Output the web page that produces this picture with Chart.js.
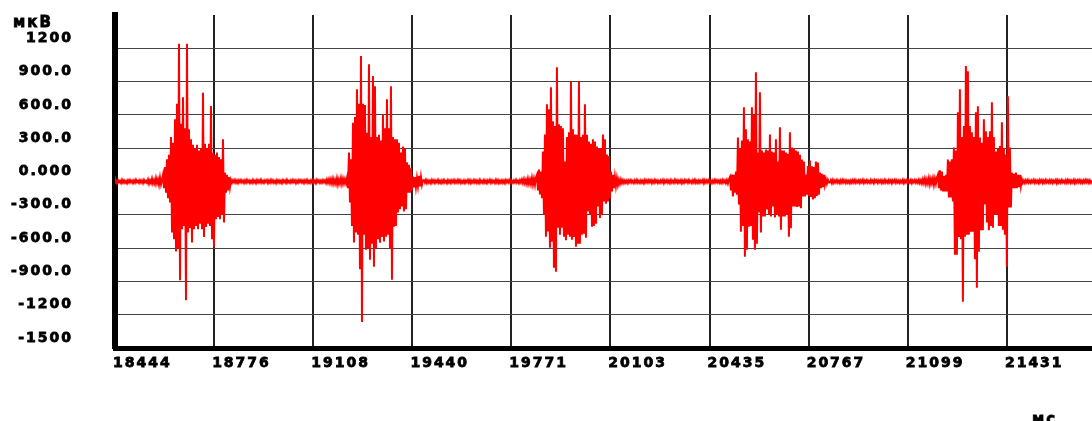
<!DOCTYPE html>
<html>
<head>
<meta charset="utf-8">
<script src="https://cdn.jsdelivr.net/npm/chart.js@4.4.1/dist/chart.umd.min.js"></script>
<style>
html, body { margin: 0; padding: 0; background: #fff; }
canvas { display: block; }
</style>
</head>
<body>
<canvas id="myChart" width="1092" height="421"></canvas>
<script>
// time axis (ms) and amplitude axis (µV)
const startMs = 18444;
const sampleMs = 3.3486;
const xTicks = [18444, 18776, 19108, 19440, 19771, 20103, 20435, 20767, 21099, 21431];
const yTicks = [-1500, -1200, -900, -600, -300, 0, 300, 600, 900, 1200, 1500];
const yLabels = ['-1500', '-1200', '-900.0', '-600.0', '-300.0', '0.000', '300.0', '600.0', '900.0', '1200', ''];
const yUnit = 'мкВ';
const xUnit = 'мс';

// signal, one sample per column, split into rest / burst parts
const rest0 = [-12,8,-15,12,-8,6,-14,15,-10,9,-12,4,-16,11,-9,13,-7,8,-14,10,-11,16,-6,7,-13,12,-10,9,-15,14,-8,6,-12,18,-20,10,-14,25,-18,12,-22,30,-15,20,-28,35,-25,15];
const burst1 = [60,-60,130,-100,200,-150,240,-190,400,-460,
  350,-520,560,-630,700,-600,1240,-890,520,-430,
  760,-400,480,-1070,1240,-460,470,-420,380,-550,
  330,-430,300,-400,330,-430,280,-380,300,-430,
  800,-500,340,-410,300,-380,340,-400,680,-520,
  260,-590,240,-340,260,-320,220,-340,200,-300,
  380,-370,80,-100,60,-80,40,-50,15];
const rest1 = [-10,12,-8,14,-12,9,-15,11,-6,13,
  -9,8,-14,10,-11,15,-7,9,-13,6,
  -12,14,-10,8,-15,12,-9,11,-8,16,
  -11,7,-13,10,-6,12,-14,9,-10,15,
  -8,11,-12,6,-15,13,-9,10,-11,8,
  -14,12,-7,9,-13,15,-10,6,-12,11,
  -9,14,-8,10,-15,7,-11,13,-6,12,
  -10,9,-14,11,-8,15,-12,6,-13,10,
  -9,12,-11,8,-15,14,-7,10,-12,9,
  -10,13,-8,11,-14,18,-12,20,-15,22,
  -18,25,-20,15,-22,28,-25,18,-20,30,
  -22,25,-18,20,-15];
const burst2 = [30,-60,260,-190,200,-400,530,-550,580,-460,
  830,-480,700,-790,1130,-1265,700,-480,690,-614,
  440,-600,1057,-705,400,-560,950,-768,858,-600,
  400,-520,420,-551,370,-500,605,-540,480,-497,
  741,-480,480,-600,858,-886,400,-407,380,-400,
  380,-280,350,-250,262,-226,316,-271,300,-250,
  172,-100,150,-100,120,-80,45,-54,40,-50,
  30,-40,50,-45,40,-30,10];
const rest2 = [12,-10,15,-14,10,-12,8,-15,14,-9,
  11,-13,9,-8,15,-12,7,-14,10,-11,
  13,-9,6,-15,12,-10,9,-13,11,-7,
  14,-12,8,-10,15,-9,11,-14,6,-12,
  10,-13,9,-8,14,-11,12,-15,7,-10,
  13,-9,11,-12,8,-14,15,-10,6,-13,
  12,-11,9,-15,10,-8,14,-12,11,-9,
  7,-13,15,-10,12,-14,8,-11,10,-12,
  9,-15,13,-8,11,-10,14,-13,6,-12,
  10,-9,15,-11,8,-14,12,-10,18,-15,
  20,-18,15,-22,25,-20,18,-25,30,-28,
  25,-30,35];
const burst3 = [60,-80,108,-117,90,-150,270,-298,424,-497,
  696,-450,651,-596,850,-542,542,-777,500,-813,
  1030,-416,515,-480,500,-416,480,-497,180,-530,
  400,-480,443,-497,900,-524,470,-500,424,-587,
  420,-560,900,-560,400,-480,420,-470,696,-506,
  420,-271,361,-300,340,-407,380,-400,360,-380,
  316,-226,300,-328,300,-300,424,-181,380,-200,
  244,-181,230,-150,90,-90,60,-60,40,-40,
  30,-30,15];
const rest3 = [-20,18,-15,12,-14,10,-12,9,-15,11,
  -8,13,-10,7,-14,12,-9,15,-11,6,
  -13,10,-12,8,-15,14,-9,11,-10,13,
  -7,12,-14,9,-11,15,-8,10,-13,6,
  -12,11,-9,14,-15,10,-8,12,-11,9,
  -14,13,-10,7,-12,15,-9,11,-13,8,
  -10,12,-15,9,-11,14,-7,10,-12,13,
  -9,6,-14,11,-10,15,-12,8,-13,10,
  -11,9,-8,14,-15,12,-10,11,-9,13,
  -12,7,-14,10,-11,15,-8,12,-10,9,
  -13,11,-12,14,-9,10,-15,12,-18,20];
const burst4 = [40,-80,63,-135,60,-100,90,-120,397,-208,
  300,-452,370,-400,668,-678,470,-614,380,-407,
  360,-400,668,-524,600,-614,985,-560,262,-280,
  804,-460,280,-316,260,-316,289,-253,280,-300,
  424,-316,270,-226,260,-325,380,-300,181,-316,
  488,-434,280,-316,280,-316,260,-300,250,-497,
  443,-420,307,-226,300,-226,280,-230,270,-226,
  240,-240,199,-135,180,-135,63,-120,140,-130,
  190,-140,136,-163,130,-150,181,-130,170,-120,
  80,-60,70,-50,60,-30,20,-20,15,-10];
const rest4 = [-10,12,-15,14,-12,10,-9,13,-11,8,
  -14,12,-10,15,-8,11,-13,9,-12,7,
  -15,10,-11,13,-9,14,-12,8,-10,12,
  -13,11,-8,15,-14,9,-10,12,-11,6,
  -12,14,-9,10,-15,13,-7,11,-13,10,
  -8,12,-14,9,-11,15,-10,7,-12,13,
  -9,11,-15,10,-8,14,-12,12,-10,9,
  -13,8,-11,15,-14,10,-9,12,-12,11,
  -10,13,-15,9,-8,14,-11,10,-12,15,
  -14,12,-18,20,-15,25,-22,18,-20,30,
  -25,22,-18,28,-30,25,-20,35];
const burst5 = [60,-60,100,-80,90,-90,50,-90,60,-90,
  199,-145,180,-145,200,-181,307,-660,280,-660,
  623,-500,831,-520,400,-1084,500,-497,1040,-480,
  994,-480,500,-452,443,-452,400,-700,623,-958,
  677,-632,397,-440,350,-440,560,-208,452,-370,
  400,-440,452,-400,714,-416,400,-298,271,-298,
  300,-400,320,-400,533,-434,300,-480,244,-768,
  768,-235,307,-235,81,-60,70,-60,81,-60,
  60,-50,60,-40,20];
const rest5 = [-12,10,-14,12,-9,15,-11,8,-13,10,
  -8,14,-12,11,-10,9,-15,13,-7,12,
  -14,10,-11,15,-9,8,-12,13,-10,11,
  -13,9,-8,14,-15,12,-10,10,-11,13,
  -9,7,-14,12,-12,15,-8,11,-13,9,
  -10,14,-15,10,-11,12,-9,13,-12,8,
  -14,11,-10,15,-8,12,-13,10,-11,9];

const signal = [...rest0, ...burst1, ...rest1, ...burst2, ...rest2, ...burst3,
  ...rest3, ...burst4, ...rest4, ...burst5, ...rest5];
const points = signal.map((v, i) => ({ x: startMs + i * sampleMs, y: v }));

const tickFont = { family: 'DejaVu Sans', size: 14, weight: 'bold' };

const oldStyle = {
  id: 'oldStyle',
  beforeLayout(chart) { chart.ctx.letterSpacing = '2px'; },
  beforeDraw(chart) { chart.ctx.letterSpacing = '2px'; },
  afterDraw(chart) {
    const ctx = chart.ctx;
    ctx.save();
    ctx.letterSpacing = '2px';
    ctx.font = 'bold 15px "DejaVu Sans"';
    ctx.fillStyle = '#000';
    ctx.strokeStyle = '#000';
    ctx.lineWidth = 0.8;
    ctx.textAlign = 'left';
    ctx.textBaseline = 'alphabetic';
    ctx.fillText(yUnit, 13, 27);
    ctx.strokeText(yUnit, 13, 27);
    ctx.fillText(xUnit, 1032, 424);
    ctx.strokeText(xUnit, 1032, 424);
    ctx.restore();
  }
};

const ctx = document.getElementById('myChart').getContext('2d');
const myChart = new Chart(ctx, {
  type: 'line',
  data: {
    datasets: [{
      data: points,
      borderColor: '#ff0000',
      borderWidth: 2,
      pointRadius: 0,
      tension: 0,
      fill: false
    }]
  },
  options: {
    responsive: false,
    animation: false,
    devicePixelRatio: 1,
    layout: { padding: { top: 15, left: 0, right: 0, bottom: 0 } },
    plugins: { legend: { display: false }, tooltip: { enabled: false } },
    scales: {
      x: {
        type: 'linear',
        min: 18444,
        max: 21716,
        afterBuildTicks: s => { s.ticks = xTicks.map(v => ({ value: v })); },
        afterFit: s => { s.height = 73; s.paddingLeft = 0; s.paddingRight = 0; },
        grid: { color: '#222', lineWidth: 2, drawTicks: false },
        border: { color: '#000', width: 5 },
        ticks: {
          autoSkip: false,
          maxRotation: 0,
          align: 'start',
          labelOffset: -2,
          padding: 7,
          color: '#000',
          textStrokeColor: '#000',
          textStrokeWidth: 0.8,
          font: tickFont,
          callback: v => String(v)
        }
      },
      y: {
        min: -1500,
        max: 1500,
        afterBuildTicks: s => { s.ticks = yTicks.map(v => ({ value: v })); },
        afterFit: s => { s.width = 115; s.paddingTop = 0; s.paddingBottom = 0; },
        grid: {
          color: c => (c.tick && c.tick.value === 1500) ? 'rgba(0,0,0,0)' : '#444',
          lineWidth: 1,
          drawTicks: false
        },
        border: { color: '#000', width: 6 },
        ticks: {
          autoSkip: false,
          padding: 42,
          labelOffset: -10,
          color: '#000',
          textStrokeColor: '#000',
          textStrokeWidth: 0.8,
          font: tickFont,
          callback: v => yLabels[yTicks.indexOf(v)]
        }
      }
    }
  },
  plugins: [oldStyle]
});
</script>
</body>
</html>
